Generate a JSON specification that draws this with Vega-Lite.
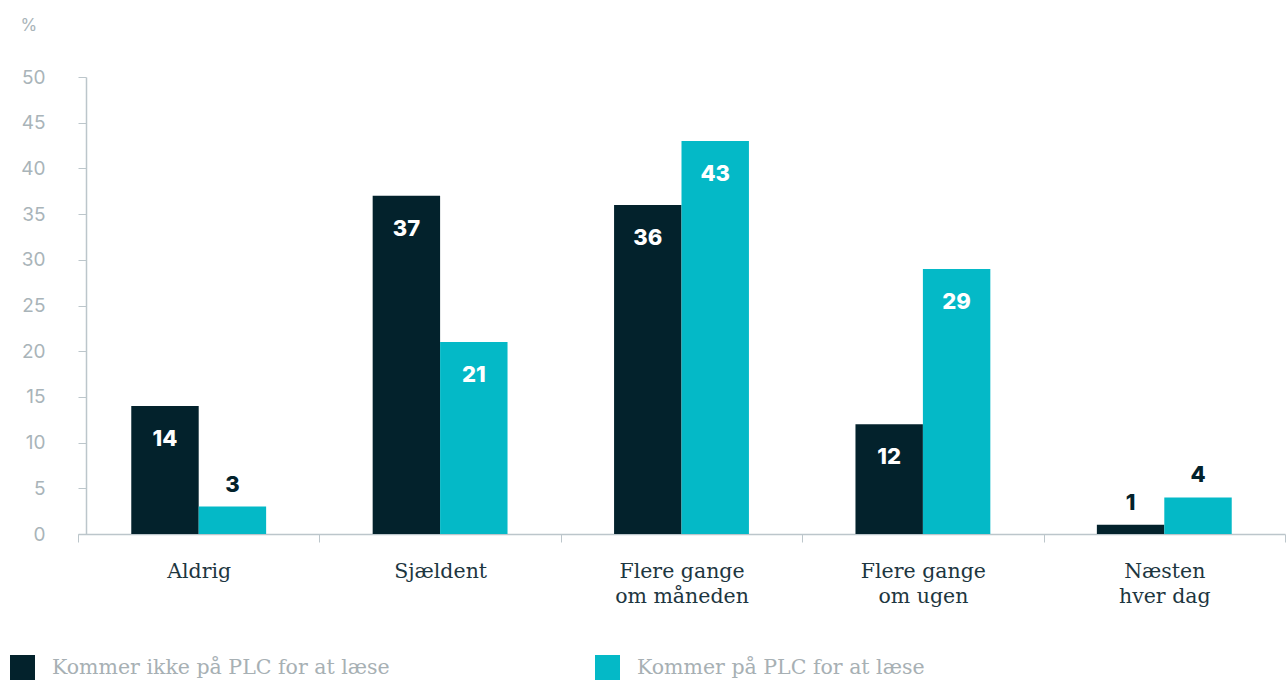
{
  "$schema": "https://vega.github.io/schema/vega-lite/v6.json",
  "autosize": {"type": "none"},
  "width": 1207,
  "height": 457,
  "padding": {"left": 78, "top": 77, "right": 2, "bottom": 146},
  "background": "white",
  "config": {"view": {"stroke": null}},
  "data": {
    "values": [
      {"kategori": "Aldrig", "gruppe": "Kommer ikke på PLC for at læse", "procent": 14},
      {"kategori": "Aldrig", "gruppe": "Kommer på PLC for at læse", "procent": 3},
      {"kategori": "Sjældent", "gruppe": "Kommer ikke på PLC for at læse", "procent": 37},
      {"kategori": "Sjældent", "gruppe": "Kommer på PLC for at læse", "procent": 21},
      {"kategori": "Flere gange|om måneden", "gruppe": "Kommer ikke på PLC for at læse", "procent": 36},
      {"kategori": "Flere gange|om måneden", "gruppe": "Kommer på PLC for at læse", "procent": 43},
      {"kategori": "Flere gange|om ugen", "gruppe": "Kommer ikke på PLC for at læse", "procent": 12},
      {"kategori": "Flere gange|om ugen", "gruppe": "Kommer på PLC for at læse", "procent": 29},
      {"kategori": "Næsten|hver dag", "gruppe": "Kommer ikke på PLC for at læse", "procent": 1},
      {"kategori": "Næsten|hver dag", "gruppe": "Kommer på PLC for at læse", "procent": 4}
    ]
  },
  "encoding": {
    "x": {
      "field": "kategori",
      "type": "nominal",
      "sort": ["Aldrig", "Sjældent", "Flere gange|om måneden", "Flere gange|om ugen", "Næsten|hver dag"],
      "scale": {"paddingInner": 0, "paddingOuter": 0},
      "axis": {
        "title": null,
        "labelAngle": 0,
        "labelExpr": "split(datum.label, '|')",
        "labelFont": "DejaVu Serif",
        "labelFontSize": 20.5,
        "labelColor": "#1d3640",
        "labelLineHeight": 25,
        "labelPadding": 19,
        "labelBaseline": "top",
        "tickBand": "extent",
        "tickSize": 8,
        "tickColor": "#bcc6cb",
        "domainColor": "#bcc6cb",
        "domainWidth": 1.5,
        "grid": false
      }
    },
    "xOffset": {
      "field": "gruppe",
      "type": "nominal",
      "sort": ["Kommer ikke på PLC for at læse", "Kommer på PLC for at læse"],
      "scale": {"paddingInner": 0, "paddingOuter": 0.79}
    },
    "y": {
      "field": "procent",
      "type": "quantitative",
      "scale": {"domain": [0, 50], "nice": false},
      "axis": {
        "title": "%",
        "titleAngle": 0,
        "titleAlign": "left",
        "titleBaseline": "middle",
        "titleX": -66,
        "titleY": -52,
        "titleFont": "Inter",
        "titleFontWeight": "normal",
        "titleFontSize": 17,
        "titleColor": "#a9b4b9",
        "values": [0, 5, 10, 15, 20, 25, 30, 35, 40, 45, 50],
        "offset": -8,
        "tickSize": 8,
        "tickColor": "#bcc6cb",
        "domainColor": "#bcc6cb",
        "domainWidth": 1.5,
        "labelFont": "Inter",
        "labelFontSize": 19,
        "labelColor": "#a9b4b9",
        "labelPadding": 33,
        "grid": false
      }
    }
  },
  "layer": [
    {
      "mark": {"type": "bar"},
      "encoding": {
        "color": {
          "field": "gruppe",
          "type": "nominal",
          "scale": {
            "domain": ["Kommer ikke på PLC for at læse", "Kommer på PLC for at læse"],
            "range": ["#03222c", "#04b9c7"]
          },
          "legend": {
            "title": null,
            "orient": "none",
            "direction": "horizontal",
            "legendX": -68,
            "legendY": 578,
            "symbolType": "square",
            "symbolSize": 625,
            "symbolStrokeWidth": 0,
            "symbolOpacity": 1,
            "labelFont": "DejaVu Serif",
            "labelFontSize": 20.5,
            "labelColor": "#a7b0b4",
            "labelOffset": 17,
            "labelLimit": 600,
            "columnPadding": 205
          }
        }
      }
    },
    {
      "transform": [{"filter": "datum.procent >= 10"}],
      "mark": {"type": "text", "baseline": "middle", "dy": 33, "font": "Inter", "fontWeight": 800, "fontSize": 22, "color": "white"},
      "encoding": {"text": {"field": "procent", "type": "quantitative"}}
    },
    {
      "transform": [{"filter": "datum.procent < 10"}],
      "mark": {"type": "text", "baseline": "middle", "dy": -22, "font": "Inter", "fontWeight": 800, "fontSize": 22, "color": "#03222c"},
      "encoding": {"text": {"field": "procent", "type": "quantitative"}}
    }
  ]
}
